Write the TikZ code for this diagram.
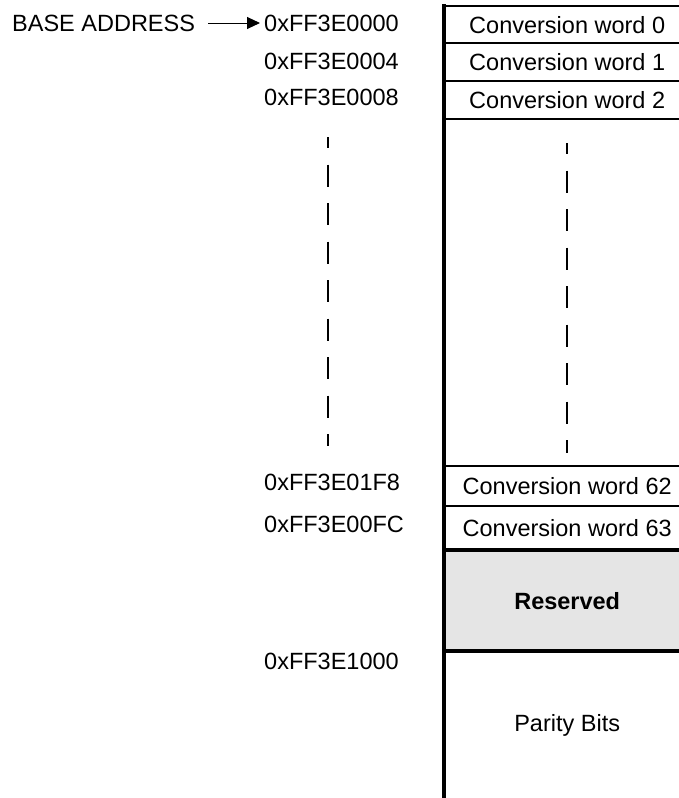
\documentclass[tikz,border=0pt]{standalone}
\usepackage{fontspec}
\setmainfont{Liberation Sans}
\usetikzlibrary{arrows.meta}
\newcommand\memfont{\fontsize{23.5}{28}\selectfont}

\begin{document}
\begin{tikzpicture}[x=1pt, y=-1pt,
    every node/.style={font=\memfont, inner sep=0pt},
    cell/.style={anchor=north west, minimum width=246pt},
    addr/.style={anchor=west},
    rule/.style={line width=2pt},
    heavyrule/.style={line width=4pt},
    vdots/.style={line width=2pt, dash pattern=on 22pt off 16.5pt, dash phase=11pt}]
    \useasboundingbox (0,0) rectangle (679,798);

    % 1. Memory cells, stacked from the top
    \node[cell, minimum height=37pt] (w0) at (444,6) {Conversion word 0};
    \node[cell, minimum height=37pt] (w1) at (w0.south west) {Conversion word 1};
    \node[cell, minimum height=38pt] (w2) at (w1.south west) {Conversion word 2};
    \node[cell, minimum height=346pt] (gap) at (w2.south west) {};
    \node[cell, minimum height=40pt] (w62) at (gap.south west) {Conversion word 62};
    \node[cell, minimum height=44pt] (w63) at (w62.south west) {Conversion word 63};
    \node[cell, minimum height=100pt, fill=gray!20, font=\memfont\bfseries] (res) at (w63.south west) {Reserved};
    \node[cell, minimum height=149pt] (par) at (res.south west) {Parity Bits};

    % 2. Rules between the cells
    \draw[line width=2.5pt] (w0.north west) -- (w0.north east);
    \foreach \c in {w0,w1,w2,gap,w62}
        \draw[rule] (\c.south west) -- (\c.south east);
    \draw[heavyrule] (res.north west) -- (res.north east);
    \draw[heavyrule] (res.south west) -- (res.south east);
    \draw[line width=1.5pt] (par.south west) -- (par.south east);
    \draw[heavyrule] ([yshift=2pt]w0.north west) -- ([yshift=-2pt]par.south west);

    % 3. Addresses
    \node[addr] (base) at (12,23) {BASE ADDRESS};
    \node[addr] (a0) at (264,23) {0xFF3E0000};
    \node[addr] (a4) at (264,61) {0xFF3E0004};
    \node[addr] (a8) at (264,97) {0xFF3E0008};
    \node[addr] (a1F8) at (264,482) {0xFF3E01F8};
    \node[addr] (aFC) at (264,524) {0xFF3E00FC};
    \node[addr] (a1000) at (264,661) {0xFF3E1000};
    \draw[-{Triangle[length=13pt,width=12pt]}, line width=1pt, shorten <=13pt, shorten >=4pt] (base) -- (a0);

    % 4. Dashed continuation
    \draw[vdots] (328,137) -- (328,446);
    \draw[vdots] ([yshift=-24pt]gap.north) -- ([yshift=13pt]gap.south);
\end{tikzpicture}
\end{document}
